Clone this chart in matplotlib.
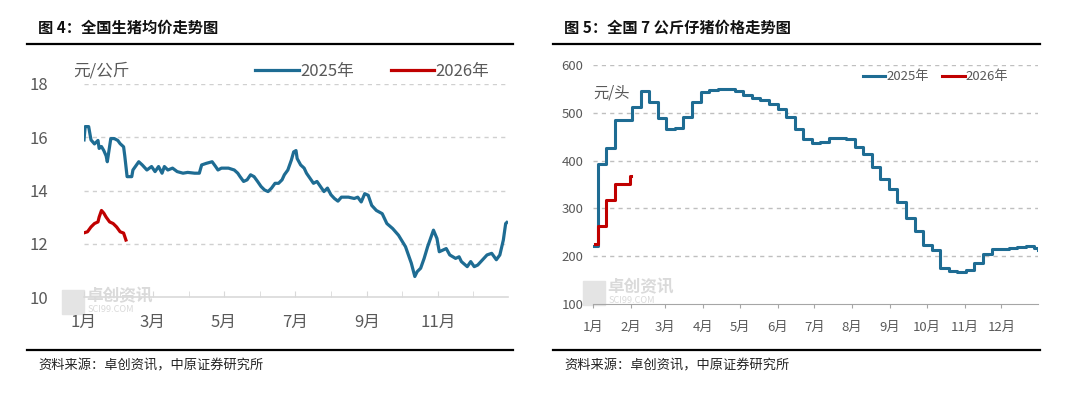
import numpy as np
import pandas as pd
import matplotlib
matplotlib.use("Agg")
import matplotlib.pyplot as plt
import matplotlib.dates as mdates
from matplotlib.lines import Line2D
from matplotlib.patches import Rectangle

plt.rcParams['font.family'] = ['Noto Sans CJK SC', 'DejaVu Sans']

BLUE = "#1E6C93"
RED = "#C00000"
GREY = "#595959"
GRID = "#D0D0D0"

# ---- data: live hog average price (元/公斤), x = day of year ----
hog_days_2025 = [0, 1, 4, 6, 9, 12, 13, 15, 17, 19, 20, 23, 26, 29, 31, 34, 35, 37, 41, 42,
                 47, 50, 54, 58, 61, 64, 67, 69, 72, 76, 80, 85, 89, 95, 99, 101, 105, 110,
                 113, 115, 118, 124, 129, 132, 134, 137, 140, 143, 146, 149, 152, 155, 158,
                 161, 164, 167, 170, 172, 175, 178, 180, 182, 183, 186, 189, 191, 194, 197,
                 200, 203, 206, 209, 212, 215, 218, 221, 227, 232, 235, 238, 241, 244, 247,
                 251, 256, 260, 265, 270, 276, 281, 284, 286, 289, 292, 295, 300, 303, 305,
                 308, 311, 314, 319, 322, 324, 329, 332, 335, 338, 342, 346, 350, 354, 357,
                 360, 362, 363]
hog_2025 = [15.90, 16.40, 16.40, 15.90, 15.75, 15.88, 15.58, 15.65, 15.50, 15.30, 15.08,
            15.95, 15.95, 15.88, 15.76, 15.64, 15.30, 14.52, 14.52, 14.77, 15.08, 14.96,
            14.77, 14.90, 14.71, 14.90, 14.65, 14.90, 14.77, 14.84, 14.71, 14.65, 14.68,
            14.65, 14.65, 14.96, 15.02, 15.08, 14.90, 14.77, 14.84, 14.84, 14.77, 14.65,
            14.52, 14.34, 14.40, 14.59, 14.52, 14.34, 14.15, 14.02, 13.96, 14.09, 14.27,
            14.27, 14.40, 14.59, 14.77, 15.14, 15.45, 15.50, 15.20, 14.96, 14.84, 14.65,
            14.46, 14.27, 14.34, 14.15, 13.96, 14.09, 13.84, 13.70, 13.60, 13.75, 13.75,
            13.70, 13.75, 13.57, 13.88, 13.82, 13.44, 13.25, 13.13, 12.76, 12.57, 12.32,
            11.89, 11.27, 10.77, 10.95, 11.08, 11.45, 11.89, 12.51, 12.20, 11.70, 11.76,
            11.82, 11.58, 11.45, 11.51, 11.33, 11.14, 11.33, 11.14, 11.20, 11.39, 11.58,
            11.64, 11.40, 11.58, 12.14, 12.76, 12.80]
hog_days_2026 = [0, 3, 6, 9, 12, 13, 15, 17, 19, 22, 25, 28, 31, 34, 36]
hog_2026 = [12.41, 12.45, 12.63, 12.76, 12.82, 13.00, 13.25, 13.15, 13.00, 12.82, 12.76,
            12.63, 12.45, 12.40, 12.14]

# ---- data: 7kg piglet price (元/头), weekly ----
piglet_days_2025 = [0, 4, 11, 18, 25, 32, 39, 46, 53, 60, 67, 74, 81, 88, 95, 102, 109, 116,
                    123, 130, 137, 144, 151, 158, 165, 172, 179, 186, 193, 200, 207, 214,
                    221, 228, 235, 242, 249, 256, 263, 270, 277, 284, 291, 298, 305, 312,
                    319, 326, 333, 340, 347, 354, 361, 364]
piglet_2025 = [221, 393, 427, 484, 484, 512, 546, 522, 490, 466, 468, 492, 522, 543, 548,
               550, 550, 545, 538, 532, 526, 518, 508, 492, 466, 446, 436, 438, 448, 448,
               445, 428, 414, 386, 361, 341, 313, 279, 253, 223, 214, 175, 168, 166, 172,
               186, 205, 215, 216, 218, 220, 222, 218, 214]
piglet_days_2026 = [2, 4, 11, 18, 25, 30, 31]
piglet_2026 = [225, 264, 318, 351, 351, 368, 368]

source_text = "资料来源：卓创资讯，中原证券研究所"


def to_dates(days):
    return pd.Timestamp("2025-01-01") + pd.to_timedelta(days, unit="D")


def month_fmt(x, pos=None):
    return f"{mdates.num2date(x).month}月"


def watermark(fig, x, y, size):
    fig.add_artist(Rectangle((x, y - 0.045), 0.02, 0.06, transform=fig.transFigure,
                             color="#E4E4E4", zorder=0))
    fig.text(x + 0.022, y, "卓创资讯", fontsize=size, color="#DADADA",
             fontweight="bold", va="center", zorder=0)
    fig.text(x + 0.024, y - 0.035, "SCI99.COM", fontsize=size * 0.55, color="#DADADA",
             va="center", zorder=0)


fig = plt.figure(figsize=(10.8, 3.97), dpi=100)

# titles, rules, sources
for x0, x1, title in [(27, 513, "图 4：全国生猪均价走势图"),
                      (553, 1040, "图 5：全国 7 公斤仔猪价格走势图")]:
    fig.text((x0 + 11) / 1080, 1 - 28 / 397, title, fontsize=11, fontweight="bold",
             color="#111111", va="center")
    fig.add_artist(Line2D([x0 / 1080, x1 / 1080], [1 - 44 / 397] * 2,
                          transform=fig.transFigure, color="black", lw=1.6))
    fig.add_artist(Line2D([x0 / 1080, x1 / 1080], [1 - 350 / 397] * 2,
                          transform=fig.transFigure, color="black", lw=1.6))
    fig.text((x0 + 11) / 1080, 1 - 366 / 397, source_text, fontsize=9.5,
             color="#222222", va="center")

watermark(fig, 62 / 1080, 1 - 296 / 397, 12)
watermark(fig, 583 / 1080, 1 - 287 / 397, 12)

# ---- left chart ----
ax1 = fig.add_axes([84 / 1080, 1 - 297 / 397, 424 / 1080, 213 / 397])
ax1.patch.set_alpha(0)
ax1.plot(to_dates(hog_days_2025), hog_2025, color=BLUE, lw=2.3, label="2025年",
         solid_joinstyle="round")
ax1.plot(to_dates(hog_days_2026), hog_2026, color=RED, lw=2.3, label="2026年",
         solid_joinstyle="round")
ax1.set_ylim(10, 18)
ax1.set_yticks([10, 12, 14, 16, 18])
ax1.set_xlim(pd.Timestamp("2025-01-01"), pd.Timestamp("2025-12-31"))
ax1.xaxis.set_major_locator(mdates.MonthLocator(bymonth=[1, 3, 5, 7, 9, 11]))
ax1.xaxis.set_minor_locator(mdates.MonthLocator())
ax1.xaxis.set_major_formatter(plt.FuncFormatter(month_fmt))
for y in [12, 14, 16, 18]:
    ax1.axhline(y, color=GRID, lw=1, ls=(0, (3, 3)), zorder=0)
for s in ["top", "right", "left"]:
    ax1.spines[s].set_visible(False)
ax1.spines["bottom"].set_color("#D9D9D9")
ax1.spines["bottom"].set_linewidth(1.2)
ax1.tick_params(axis="y", length=0, pad=26, labelsize=12, labelcolor=GREY)
ax1.tick_params(axis="x", which="both", length=4, color="#D9D9D9", direction="in",
                pad=12, labelsize=12, labelcolor=GREY)
ax1.legend(loc="center", bbox_to_anchor=(0.68, 1.06), ncol=2, frameon=False,
           fontsize=12, labelcolor=GREY, handlelength=2.6, handletextpad=0.1,
           columnspacing=2.2)
ax1.text(-0.026, 1.06, "元/公斤", transform=ax1.transAxes, fontsize=12, color=GREY,
         va="center", ha="left")

# ---- right chart ----
ax2 = fig.add_axes([593 / 1080, 1 - 304 / 397, 445 / 1080, 239 / 397])
ax2.patch.set_alpha(0)
ax2.plot(to_dates(piglet_days_2025), piglet_2025, color=BLUE, lw=2.2,
         drawstyle="steps-post", label="2025年")
ax2.plot(to_dates(piglet_days_2026), piglet_2026, color=RED, lw=2.2,
         drawstyle="steps-post", label="2026年")
ax2.set_ylim(100, 600)
ax2.set_yticks([100, 200, 300, 400, 500, 600])
ax2.set_xlim(pd.Timestamp("2025-01-01"), pd.Timestamp("2025-12-31"))
ax2.xaxis.set_major_locator(mdates.MonthLocator())
ax2.xaxis.set_major_formatter(plt.FuncFormatter(month_fmt))
for y in [200, 300, 400, 500, 600]:
    ax2.axhline(y, color="#BFBFBF", lw=1, ls=(0, (3, 3)), zorder=0)
for s in ["top", "right", "left"]:
    ax2.spines[s].set_visible(False)
ax2.spines["bottom"].set_color("#A6A6A6")
ax2.tick_params(axis="y", length=0, pad=7, labelsize=9.5, labelcolor=GREY)
ax2.tick_params(axis="x", length=3, color="#A6A6A6", pad=9, labelsize=9.5,
                labelcolor=GREY)
ax2.legend(loc="center", bbox_to_anchor=(0.77, 0.95), ncol=2, frameon=False,
           fontsize=9.5, labelcolor=GREY, handlelength=1.7, handletextpad=0.1,
           columnspacing=1.0)
ax2.text(0.0, 0.883, "元/头", transform=ax2.transAxes, fontsize=11, color=GREY,
         va="center", ha="left")

fig.savefig("out.png", dpi=100)
